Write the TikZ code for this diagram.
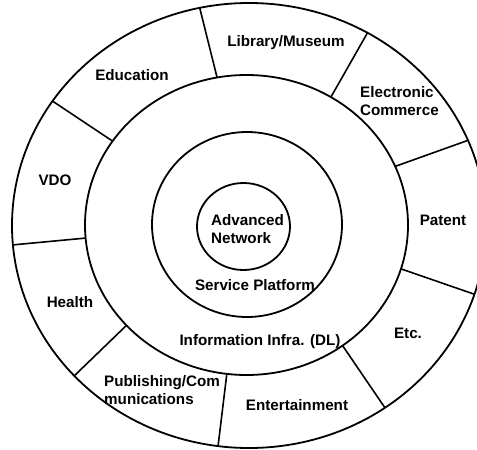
\documentclass[tikz,border=0pt]{standalone}
\usepackage{fontspec}
\setmainfont{Liberation Sans}
\usetikzlibrary{calc}
\begin{document}
\begin{tikzpicture}[x=1pt,y=-1pt,
  ring/.style={line width=1.8pt},
  sep/.style={line width=1.6pt},
  lbl/.style={inner sep=0pt,font=\fontsize{15.2}{18}\selectfont\bfseries}]
\useasboundingbox (0,0) rectangle (477,450);
\clip (0,0) rectangle (477,450);
% centres
\coordinate (O) at (249,225.5);
\coordinate (M) at (246.5,225);
\coordinate (S) at (247,224.5);
\coordinate (A) at (243.5,226.5);
% rings
\draw[ring] (O) ellipse [x radius=237, y radius=222.5];
\draw[ring] (M) ellipse [x radius=161.5, y radius=150];
\draw[ring] (S) ellipse [x radius=95, y radius=92.5];
\draw[ring] (A) ellipse [x radius=46.5, y radius=43.5];
% separators between middle and outer ring
\foreach \a/\b in {100.5/102, 58.5/60, 23/22.5, -17/-18, -53.5/-55, -97/-97.5, -138/-137.5, -175/-175, 146/146}{
  \draw[sep] ($(M)+({161.5*cos(\a)},{-150*sin(\a)})$) -- ($(O)+({237*cos(\b)},{-222.5*sin(\b)})$);
}
% labels
\node[lbl] (lib) at (286,43) {Library/Museum};
\node[lbl] (edu) at (132,75) {Education};
\node[lbl,align=left,anchor=west] (ec) at (360,101) {Electronic\\Commerce};
\node[lbl] (vdo) at (55,180) {VDO};
\node[lbl] (pat) at (443,220) {Patent};
\node[lbl,align=left] (an) at (247.5,229.5) {Advanced\\Network};
\node[lbl] (sp) at (255,285) {Service Platform};
\node[lbl] (hl) at (70,302) {Health};
\node[lbl] (ii) at (260,342) {Information Infra. (DL)};
\node[lbl] (etc) at (408,333) {Etc.};
\node[lbl,align=left,anchor=west] (pub) at (104,390) {Publishing/Com\\munications};
\node[lbl] (ent) at (297,405) {Entertainment};
\end{tikzpicture}
\end{document}
